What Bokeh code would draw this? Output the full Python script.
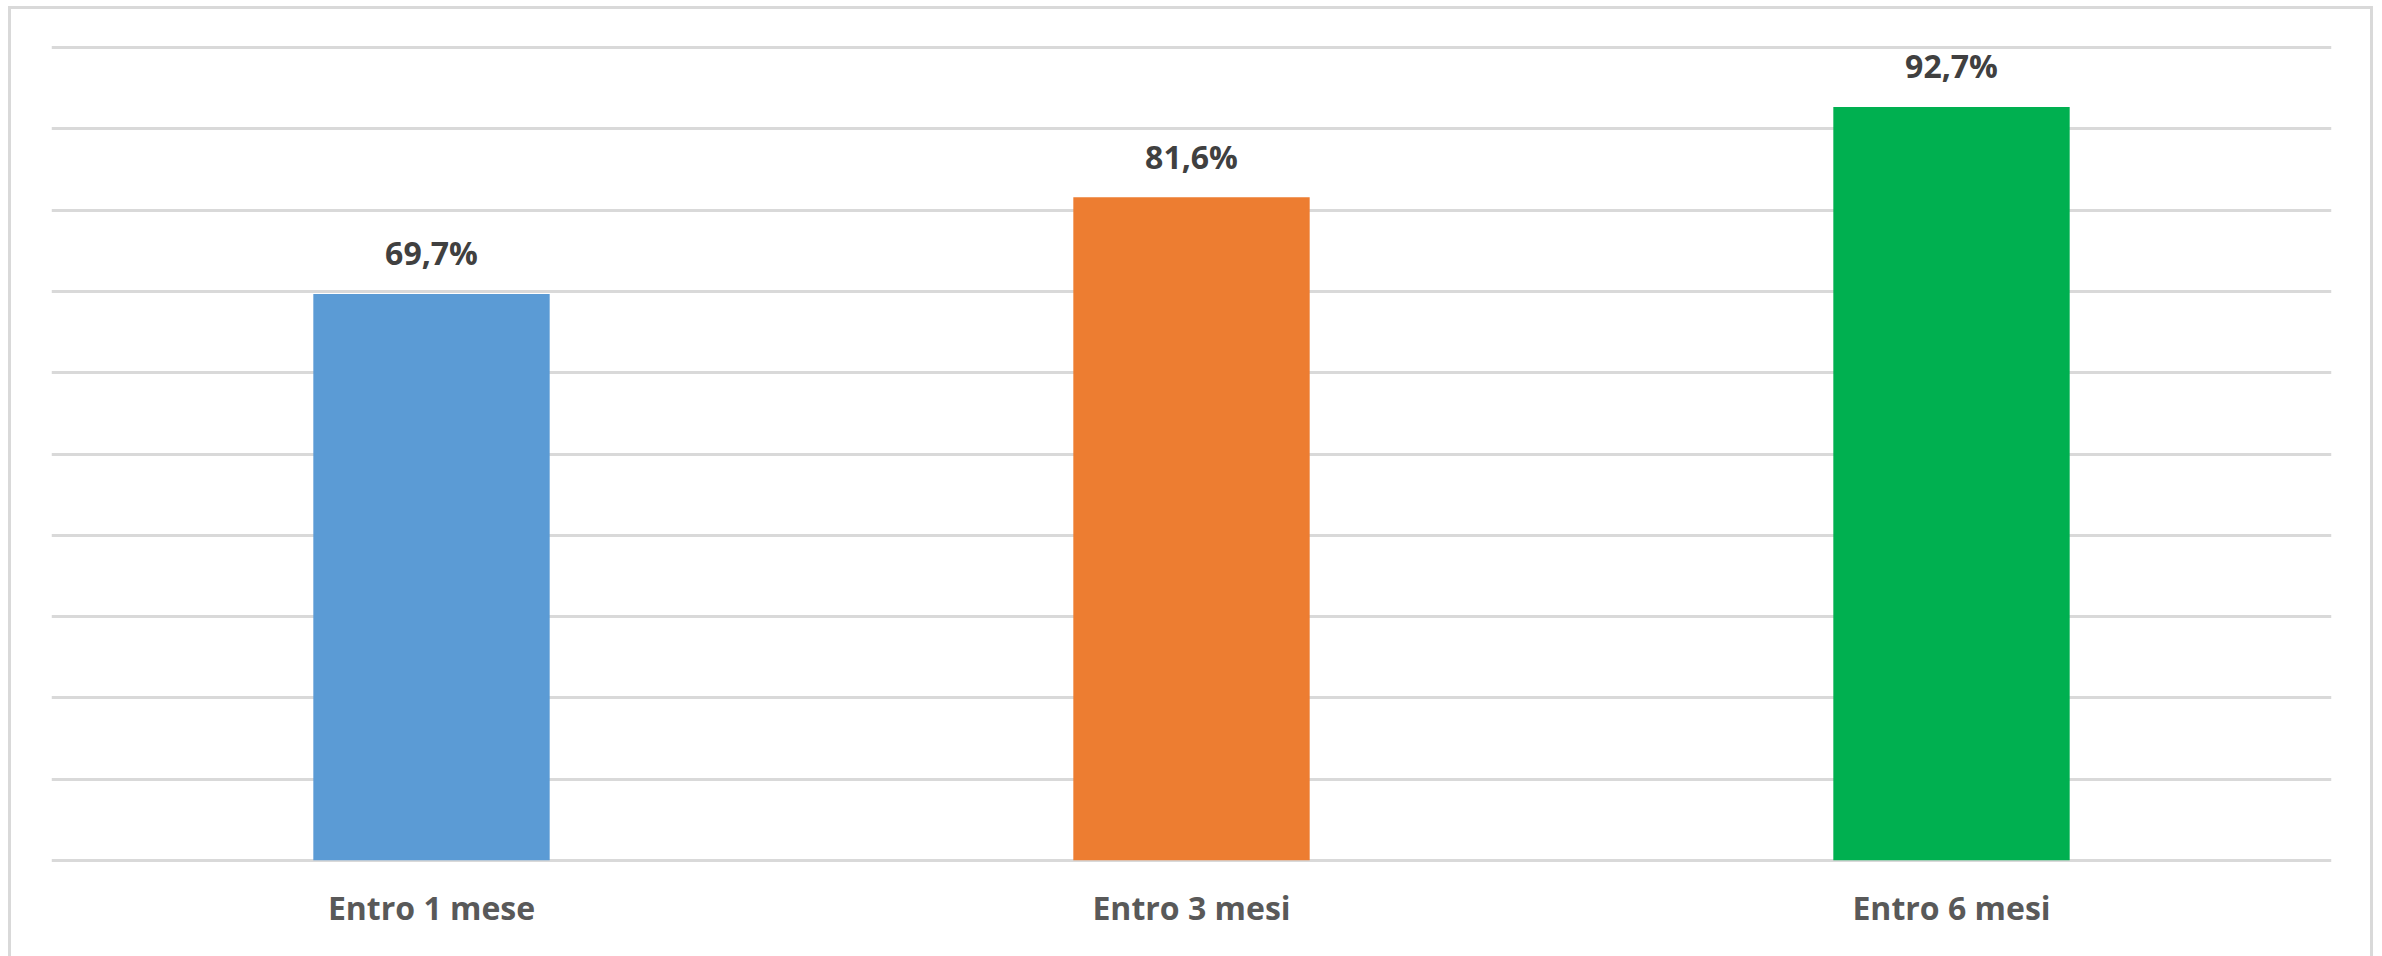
from bokeh.plotting import figure
from bokeh.models import ColumnDataSource, LabelSet, Range1d, FixedTicker
from bokeh.core.properties import value
from bokeh.embed import file_html
from bokeh.resources import INLINE

categories = ["Entro 1 mese", "Entro 3 mesi", "Entro 6 mesi"]
values = [69.7, 81.6, 92.7]
value_labels = ["69,7%", "81,6%", "92,7%"]
colors = ["#5B9BD5", "#ED7D31", "#00B050"]
grid_ticks = [0, 10, 20, 30, 40, 50, 60, 70, 80, 90, 100]

src = ColumnDataSource(dict(cat=categories, val=values, lab=value_labels, col=colors))

p = figure(x_range=categories, width=2359, height=947, output_backend="svg",
           toolbar_location=None, min_border_left=40, min_border_right=45,
           min_border_top=30, min_border_bottom=91)
p.y_range = Range1d(-1, 101)
p.x_range.range_padding = 0
p.outline_line_color = None
p.background_fill_color = "white"
p.border_fill_color = "white"

p.vbar(x="cat", top="val", bottom=0, width=0.311, color="col", line_color=None, source=src)

p.yaxis.visible = False
p.ygrid.ticker = FixedTicker(ticks=grid_ticks)
p.ygrid.grid_line_color = "#d9d9d9"
p.ygrid.grid_line_width = 3
p.xgrid.grid_line_color = None

p.xaxis.axis_line_color = None
p.xaxis.major_tick_line_color = None
p.xaxis.major_tick_in = 0
p.xaxis.major_tick_out = 0
p.xaxis.major_label_standoff = 17
p.xaxis.major_label_text_font = "Open Sans"
p.xaxis.major_label_text_font_style = "bold"
p.xaxis.major_label_text_font_size = "32px"
p.xaxis.major_label_text_color = "#595959"

labels = LabelSet(x="cat", y="val", text="lab", source=src, y_offset=41,
                  text_align="center", text_baseline="middle",
                  text_font=value("Open Sans"), text_font_style="bold",
                  text_font_size="32px", text_color="#404040")
p.add_layout(labels)

p.styles = {"border-top": "3px solid #d9d9d9", "border-left": "3px solid #d9d9d9",
            "border-right": "3px solid #d9d9d9", "box-sizing": "content-box",
            "margin-left": "8px", "margin-top": "6px"}

open("out.html", "w").write(file_html(p, INLINE))
